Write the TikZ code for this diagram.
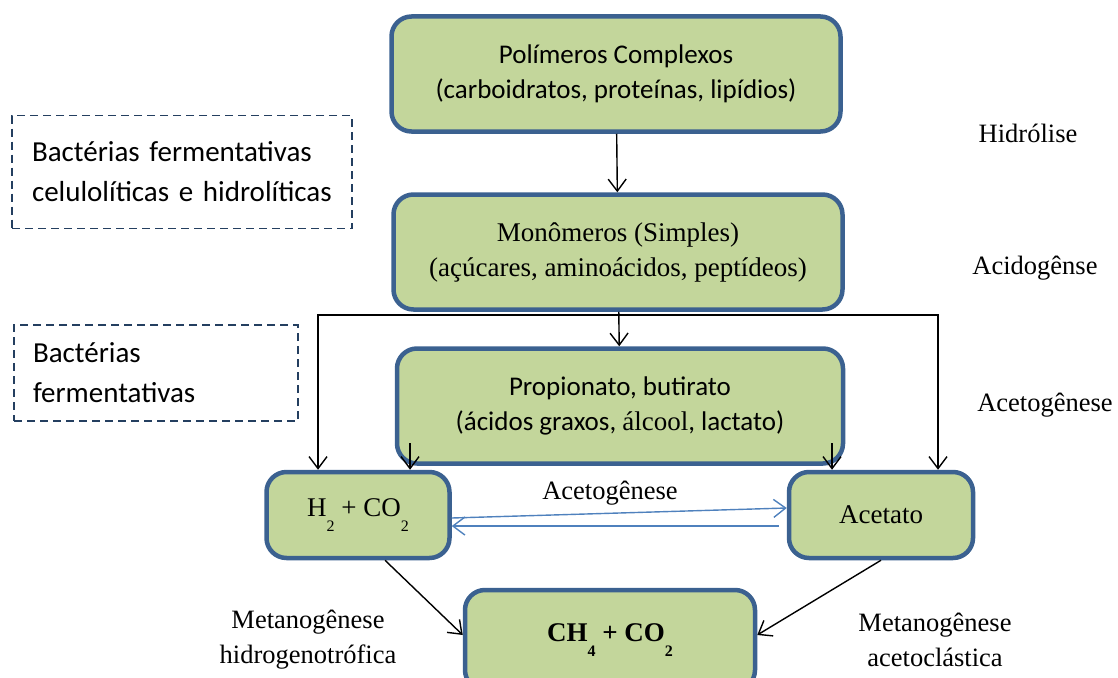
\documentclass[tikz,border=0pt]{standalone}
\usepackage{fontspec}
\setmainfont{Liberation Serif}
\newfontfamily\calibri{Carlito}
\usetikzlibrary{arrows.meta, calc}
\definecolor{caixa}{HTML}{C3D69B}
\definecolor{borda}{HTML}{3B6190}
\definecolor{fluxo}{HTML}{4F81BD}
\definecolor{tracejado}{HTML}{243F60}

\tikzset{
  etapa/.style={draw=borda, fill=caixa, line width=4.5pt, rounded corners=20pt, align=center, font=\fontsize{27}{35}\selectfont},
  grupo/.style={draw=tracejado, line width=1.3pt, dash pattern=on 8pt off 5pt, align=left, font=\calibri\fontsize{29}{40}\selectfont},
  fase/.style={font=\fontsize{26.5}{35}\selectfont, align=center},
  >={Straight Barb[length=12pt,width=18pt]}
}

\begin{document}
\begin{tikzpicture}[x=1pt, y=-1pt, line width=1.4pt]
\useasboundingbox (0,0) rectangle (1118,677);
% caixas do processo
\node[etapa, minimum width=449pt, minimum height=115pt] (poli) at (616,74) {\calibri Polímeros Complexos\\\calibri (carboidratos, proteínas, lipídios)};
\node[etapa, minimum width=449pt, minimum height=115pt] (mono) at (618,252) {Monômeros (Simples)\\(açúcares, aminoácidos, peptídeos)};
\node[etapa, minimum width=446pt, minimum height=115pt] (prop) at (620,406) {\calibri Propionato, butirato\\\calibri (ácidos graxos, {\rmfamily álcool}, lactato)};
\node[etapa, minimum width=183pt, minimum height=86pt] (hco) at (358,515) {H\raisebox{-15pt}{\fontsize{16}{16}\selectfont 2} + CO\raisebox{-15pt}{\fontsize{16}{16}\selectfont 2}};
\node[etapa, minimum width=184pt, minimum height=86pt] (acet) at (881,515) {Acetato};
\node[etapa, minimum width=290pt, minimum height=100pt] (ch) at (610,640) {\bfseries CH\raisebox{-15pt}{\fontsize{16}{16}\selectfont 4} + CO\raisebox{-15pt}{\fontsize{16}{16}\selectfont 2}};

% grupos de bacterias
\node[grupo, minimum width=340pt, minimum height=113pt, text width=300pt] (bhid) at (182,172) {Bactérias fermentativas\\celulolíticas e hidrolíticas};
\node[grupo, minimum width=284pt, minimum height=96pt, text width=246pt] (bfer) at (156,373) {Bactérias\\fermentativas};

% fases
\path (1028,133) node[fase] (hidr) {Hidrólise};
\path (1035,268) node[fase] (acid) {Acidogênse};
\path (1045,405) node[fase] (aceg) {Acetogênese};
\path (308,640) node[fase] (mhid) {Metanogênese\\hidrogenotrófica};
\path (935,640) node[fase] (mace) {Metanogênese\\acetoclástica};
\path (610,493) node[fase] (acet2) {Acetogênese};

% setas
\draw[->] (poli) -- (mono);
\draw[->] (mono) -- (prop);
\coordinate (esq) at (318,315);
\coordinate (dir) at (938,315);
\draw[<->] (esq |- hco.north) -- (esq) -- (dir) -- (dir |- acet.north);
\coordinate (p1) at (410,443);
\coordinate (p2) at (832,443);
\draw[->] (p1) -- (p1 |- hco.north);
\draw[->] (p2) -- (p2 |- acet.north);
\draw[->, draw=fluxo] ([yshift=-3pt]hco.east) -- ([yshift=7pt]acet.west);
\draw[->, draw=fluxo] ([xshift=-8pt,yshift=-11pt]acet.west) -- ([yshift=-11pt]hco.east);
\draw[->] ([xshift=27pt]hco.south) -- ([yshift=5pt]ch.west);
\draw[->] (acet.south) -- ([yshift=5pt]ch.east);
\end{tikzpicture}
\end{document}
